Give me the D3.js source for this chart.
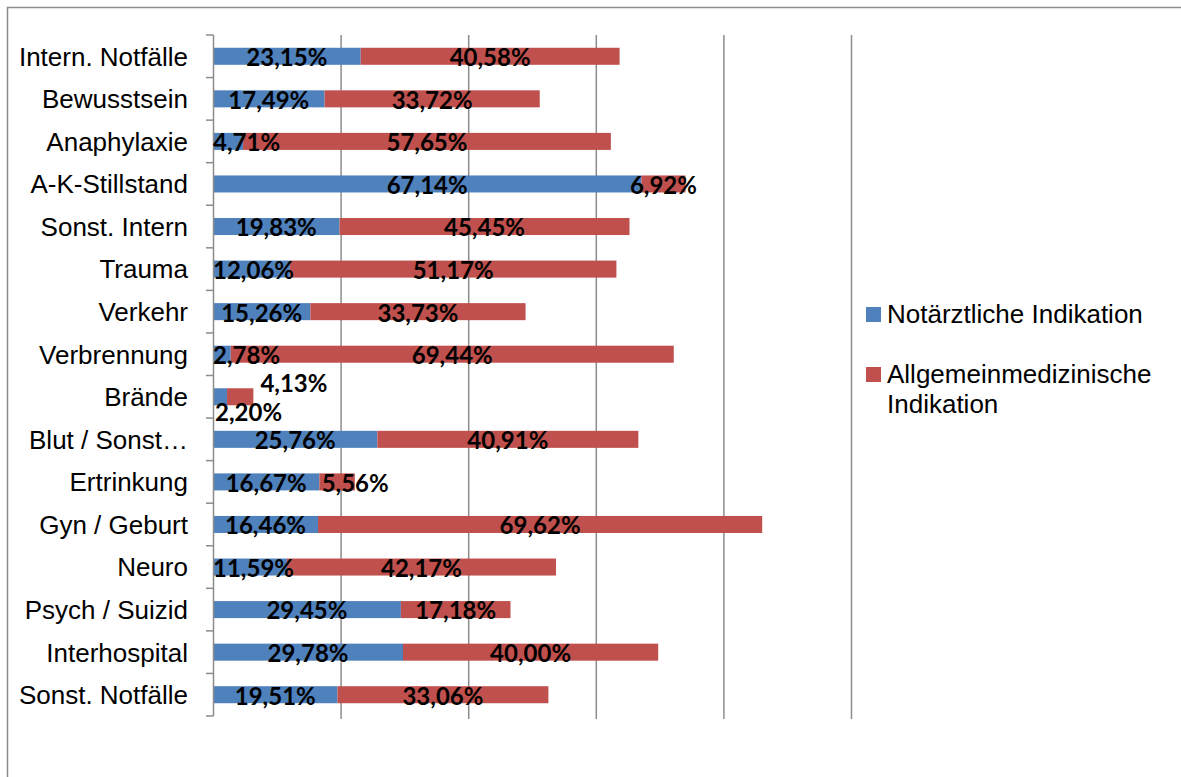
<!DOCTYPE html>
<html>
<head>
<meta charset="utf-8">
<script src="https://cdn.jsdelivr.net/npm/d3@7/dist/d3.min.js"></script>
<style>
  html, body { margin: 0; padding: 0; background: #fff; }
  svg { display: block; }
</style>
</head>
<body>
<svg id="chart" width="1181" height="777"></svg>
<script>
// Einsatzkategorien und Anteile der Indikationen (in %)
const categories = [
  "Intern. Notfälle", "Bewusstsein", "Anaphylaxie", "A-K-Stillstand",
  "Sonst. Intern", "Trauma", "Verkehr", "Verbrennung", "Brände",
  "Blut / Sonst…", "Ertrinkung", "Gyn / Geburt", "Neuro",
  "Psych / Suizid", "Interhospital", "Sonst. Notfälle"
];
const notaerztlich = [
  23.15, 17.49, 4.71, 67.14, 19.83, 12.06, 15.26, 2.78, 2.20,
  25.76, 16.67, 16.46, 11.59, 29.45, 29.78, 19.51
];
const allgemein = [
  40.58, 33.72, 57.65, 6.92, 45.45, 51.17, 33.73, 69.44, 4.13,
  40.91, 5.56, 69.62, 42.17, 17.18, 40.00, 33.06
];
const seriesNames = ["Notärztliche Indikation", "Allgemeinmedizinische Indikation"];
const seriesColors = ["#4F81BD", "#C0504D"];
const xTicks = [0, 20, 40, 60, 80, 100];

const svg = d3.select("#chart");
const sansFont = "'Liberation Sans', Arial, Helvetica, sans-serif";

// Diagrammrahmen
svg.append("rect")
  .attr("x", 7.5).attr("y", 7.5)
  .attr("width", 1200).attr("height", 800)
  .attr("fill", "#fff").attr("stroke", "#8c8c8c").attr("stroke-width", 1.5);

const plot = { left: 213, right: 851, top: 35, bottom: 716 };

const x = d3.scaleLinear().domain([0, 100]).range([plot.left, plot.right]);
const y = d3.scaleBand().domain(categories)
  .range([plot.top, plot.bottom])
  .paddingInner(0.6).paddingOuter(0.3);

// Vertikale Gitterlinien
svg.append("g")
  .selectAll("line")
  .data(xTicks.slice(1))
  .join("line")
  .attr("x1", d => x(d) + 0.5).attr("x2", d => x(d) + 0.5)
  .attr("y1", plot.top).attr("y2", plot.bottom + 3)
  .attr("stroke", "#8c8c8c").attr("stroke-width", 1.5);

// Gestapelte Balken
const rows = categories.map((c, i) => ({
  cat: c,
  segs: [
    { s: 0, v: notaerztlich[i], x0: 0, x1: notaerztlich[i] },
    { s: 1, v: allgemein[i], x0: notaerztlich[i], x1: notaerztlich[i] + allgemein[i] }
  ]
}));

const barG = svg.append("g");
rows.forEach(r => {
  barG.selectAll(null)
    .data(r.segs)
    .join("rect")
    .attr("x", d => x(d.x0))
    .attr("y", y(r.cat))
    .attr("width", d => x(d.x1) - x(d.x0))
    .attr("height", y.bandwidth())
    .attr("fill", d => seriesColors[d.s]);
});

// Kategorienachse mit Teilstrichen zwischen den Kategorien
const axisG = svg.append("g");
axisG.append("line")
  .attr("x1", plot.left + 0.5).attr("x2", plot.left + 0.5)
  .attr("y1", plot.top).attr("y2", plot.bottom)
  .attr("stroke", "#8c8c8c").attr("stroke-width", 1.5);
const step = y.step();
axisG.selectAll("line.tick")
  .data(d3.range(categories.length + 1))
  .join("line")
  .attr("class", "tick")
  .attr("x1", plot.left - 7).attr("x2", plot.left + 0.5)
  .attr("y1", i => plot.top + i * step).attr("y2", i => plot.top + i * step)
  .attr("stroke", "#8c8c8c").attr("stroke-width", 1.5);

axisG.selectAll("text")
  .data(categories)
  .join("text")
  .attr("x", plot.left - 25)
  .attr("y", d => y(d) + y.bandwidth() / 2)
  .attr("dy", "0.36em")
  .attr("text-anchor", "end")
  .style("font-family", sansFont)
  .style("font-size", "26px")
  .attr("fill", "#000")
  .text(d => d);

// Datenbeschriftungen
const fmt = v => v.toFixed(2).replace(".", ",") + "%";
const labelG = svg.append("g")
  .style("font-family", "Lato, 'Open Sans', sans-serif")
  .style("font-weight", 700)
  .style("font-size", "24px")
  .attr("fill", "#000");

rows.forEach(r => {
  const cy = y(r.cat) + y.bandwidth() / 2 + 1;
  const texts = r.segs.map(d =>
    labelG.append("text").attr("dy", "0.37em").text(fmt(d.v)));
  const widths = texts.map(t => t.node().getComputedTextLength());
  const total = x(r.segs[1].x1) - plot.left;

  if (total < Math.max(...widths)) {
    // Sehr kurzer Balken: Beschriftungen ober- und unterhalb
    texts[0].attr("x", plot.left + 2).attr("y", cy + 14);
    texts[1].attr("x", x(r.segs[1].x1) + 7).attr("y", cy - 15);
    return;
  }
  let prevRight = -Infinity;
  r.segs.forEach((d, k) => {
    const w = widths[k];
    let left = (x(d.x0) + x(d.x1)) / 2 - w / 2;
    left = Math.max(left, plot.left);
    if (left < prevRight + 15) left = prevRight + 15;
    texts[k].attr("x", left).attr("y", cy);
    prevRight = left + w;
  });
});

// Legende
const legend = svg.append("g")
  .style("font-family", sansFont)
  .style("font-size", "26px");
const legendItems = [
  { lines: ["Notärztliche Indikation"], y: 314 },
  { lines: ["Allgemeinmedizinische", "Indikation"], y: 374 }
];
legendItems.forEach((it, i) => {
  legend.append("rect")
    .attr("x", 866).attr("y", it.y - 7)
    .attr("width", 15).attr("height", 15)
    .attr("fill", seriesColors[i]);
  const t = legend.append("text").attr("x", 887).attr("y", it.y);
  it.lines.forEach((ln, j) => {
    t.append("tspan").attr("x", 887).attr("dy", j === 0 ? "0.36em" : 30).text(ln);
  });
});
</script>
</body>
</html>
